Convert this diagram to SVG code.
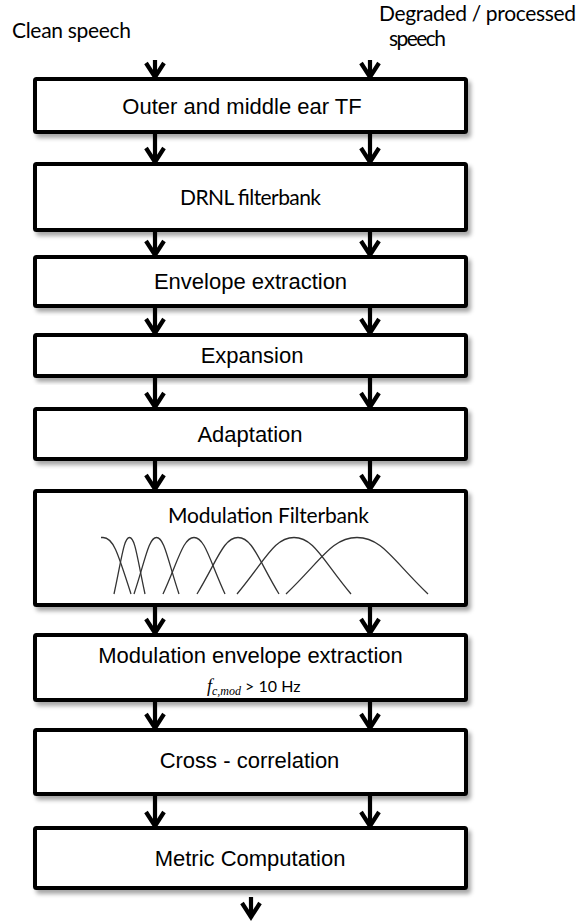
<svg xmlns="http://www.w3.org/2000/svg" width="580" height="923" viewBox="0 0 580 923">
<defs>
<filter id="sh" x="-5%" y="-10%" width="115%" height="130%">
<feDropShadow dx="3" dy="4" stdDeviation="2.2" flood-color="#000" flood-opacity="0.35"/>
</filter>
</defs>
<style>
.box{fill:#fff;stroke:#000;stroke-width:4;filter:url(#sh)}
.ar{fill:none;stroke:#000;stroke-width:4.2;stroke-linejoin:miter}
.t{font-family:"Liberation Sans",Arial,sans-serif;font-size:22px;fill:#000;text-anchor:middle}
.c{font-family:Lato,"Open Sans",sans-serif;font-size:21px;fill:#000}
.fb{fill:none;stroke:#333;stroke-width:1.3}
</style>
<rect width="580" height="923" fill="#fff"/>
<g id="labels">
<text class="c" x="12" y="38" textLength="119">Clean speech</text>
<text class="c" x="379" y="21" textLength="197">Degraded / processed</text>
<text class="c" x="389" y="46" textLength="57">speech</text>
</g>
<g id="n1"><rect class="box" x="35" y="79" width="431" height="53" rx="1.5"/><text class="t" x="242" y="114">Outer and middle ear TF</text></g>
<g id="n2"><rect class="box" x="35" y="164" width="431" height="66" rx="1.5"/><text class="c" x="180" y="205" textLength="141">DRNL filterbank</text></g>
<g id="n3"><rect class="box" x="35" y="257" width="431" height="49" rx="1.5"/><text class="t" x="250.5" y="289">Envelope extraction</text></g>
<g id="n4"><rect class="box" x="35" y="335" width="431" height="41" rx="1.5"/><text class="t" x="252" y="363">Expansion</text></g>
<g id="n5"><rect class="box" x="35" y="409" width="431" height="50" rx="1.5"/><text class="t" x="250" y="442">Adaptation</text></g>
<g id="n6"><rect class="box" x="35" y="491" width="431" height="114" rx="1.5"/><text class="c" x="168" y="523" textLength="201">Modulation Filterbank</text>
<g id="filters">
<path class="fb" d="M101,537.5 L103,537.5 C112.8,537.5 117,550 131,594"/>
<path class="fb" d="M114,594 C121.5,560 123.7,537.5 129.5,537.5 C135.3,537.5 137.5,560 145,594"/>
<path class="fb" d="M134,594 C145.3,560 148.6,537.5 156.5,537.5 C164.4,537.5 167.7,560 179,594"/>
<path class="fb" d="M163,594 C178.5,560 183.2,537.5 194,537.5 C204.8,537.5 209.5,560 225,594"/>
<path class="fb" d="M197,594 C217.5,560 223.6,537.5 238,537.5 C252.4,537.5 258.5,560 279,594"/>
<path class="fb" d="M237,594 C265.5,560 274,537.5 294,537.5 C314,537.5 322.5,560 351,594"/>
<path class="fb" d="M286,594 C321.5,560 332.1,537.5 357,537.5 C381.9,537.5 392.5,560 428,594"/>
</g>
</g>
<g id="n7"><rect class="box" x="35" y="635" width="431" height="65" rx="1.5"/><text class="t" x="250.5" y="663">Modulation envelope extraction</text>
<text x="207" y="692" fill="#000"><tspan font-family="'Liberation Serif',serif" font-style="italic" font-size="18">f</tspan><tspan font-family="'Liberation Serif',serif" font-style="italic" font-size="12" dy="3">c,mod</tspan><tspan font-family="Lato,'Open Sans',sans-serif" font-size="16" dy="-3"> &gt; 10 Hz</tspan></text>
</g>
<g id="n8"><rect class="box" x="35" y="730" width="431" height="64" rx="1.5"/><text class="t" x="249.5" y="768">Cross - correlation</text></g>
<g id="n9"><rect class="box" x="35" y="828" width="431" height="60" rx="1.5"/><text class="t" x="250" y="866">Metric Computation</text></g>
<g id="connectors">
<path class="ar" d="M155,60 V78 M146,63 L155,77 L164,63"/>
<path class="ar" d="M370,60 V78 M361,63 L370,77 L379,63"/>
<path class="ar" d="M155,132 V163 M146,148 L155,162 L164,148"/>
<path class="ar" d="M370,132 V163 M361,148 L370,162 L379,148"/>
<path class="ar" d="M155,230 V256 M146,241 L155,255 L164,241"/>
<path class="ar" d="M370,230 V256 M361,241 L370,255 L379,241"/>
<path class="ar" d="M155,306 V334 M146,319 L155,333 L164,319"/>
<path class="ar" d="M370,306 V334 M361,319 L370,333 L379,319"/>
<path class="ar" d="M155,376 V408 M146,393 L155,407 L164,393"/>
<path class="ar" d="M370,376 V408 M361,393 L370,407 L379,393"/>
<path class="ar" d="M155,459 V490 M146,475 L155,489 L164,475"/>
<path class="ar" d="M370,459 V490 M361,475 L370,489 L379,475"/>
<path class="ar" d="M155,605 V634 M146,619 L155,633 L164,619"/>
<path class="ar" d="M370,605 V634 M361,619 L370,633 L379,619"/>
<path class="ar" d="M155,700 V729 M146,714 L155,728 L164,714"/>
<path class="ar" d="M370,700 V729 M361,714 L370,728 L379,714"/>
<path class="ar" d="M155,794 V827 M146,812 L155,826 L164,812"/>
<path class="ar" d="M370,794 V827 M361,812 L370,826 L379,812"/>
<path class="ar" d="M251,897 V918 M242,903 L251,917 L260,903"/>
</g>
</svg>
